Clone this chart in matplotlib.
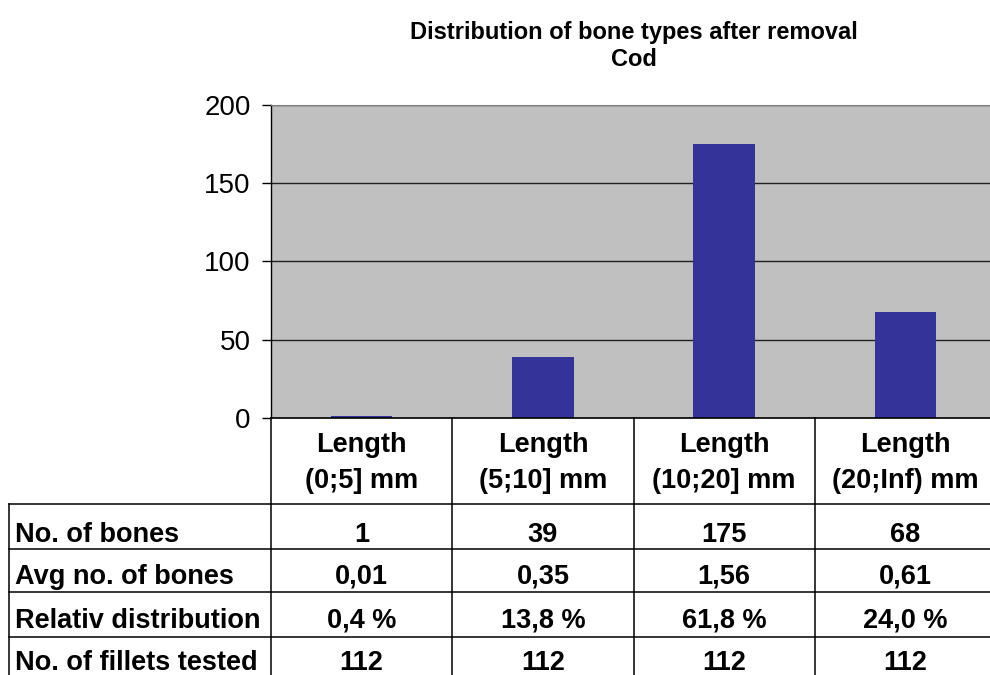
import matplotlib
matplotlib.use("Agg")
import matplotlib.pyplot as plt
from matplotlib.transforms import blended_transform_factory

plt.rcParams["font.family"] = ["Liberation Sans", "DejaVu Sans"]

# ---------- data ----------
categories = ["Length\n(0;5] mm", "Length\n(5;10] mm", "Length\n(10;20] mm", "Length\n(20;Inf) mm"]
n_bones = [1, 39, 175, 68]
avg_bones = [0.01, 0.35, 1.56, 0.61]
rel_dist = [0.4, 13.8, 61.8, 24.0]
n_fillets = [112, 112, 112, 112]
row_labels = ["No. of bones", "Avg no. of bones", "Relativ distribution", "No. of fillets tested"]
y_ticks = [0, 50, 100, 150, 200]


def _comma(v, nd):
    return f"{v:.{nd}f}".replace(".", ",")


rows = [
    [str(v) for v in n_bones],
    [_comma(v, 2) for v in avg_bones],
    [_comma(v, 1) + " %" for v in rel_dist],
    [str(v) for v in n_fillets],
]

W, H = 990, 675
FS = 19.5  # table text size
fig = plt.figure(figsize=(W / 100, H / 100), dpi=100)

# ---------- bar chart ----------
ax = fig.add_axes([271 / W, (H - 418) / H, 725 / W, 313 / H])
ax.set_facecolor("#C0C0C0")
ax.bar(range(len(n_bones)), n_bones, width=0.34, color="#333399", zorder=3)
ax.set_xlim(-0.5, len(n_bones) - 0.5)
ax.set_ylim(0, 200)
ax.set_yticks(y_ticks)
ax.set_xticks([])
ax.yaxis.grid(True, color="#202020", lw=1.0, zorder=1)
ax.tick_params(axis="y", labelsize=20, direction="out", length=6.5, width=1, pad=8)
ax.spines["top"].set_color("#808080")
ax.spines["right"].set_visible(False)
ax.spines["left"].set_linewidth(1.0)
ax.spines["bottom"].set_linewidth(1.2)
ax.spines["bottom"].set_zorder(4)

fig.text(634 / W, 1 - 39 / H, "Distribution of bone types after removal",
         ha="center", va="baseline", fontsize=17, fontweight="bold")
fig.text(634 / W, 1 - 66 / H, "Cod",
         ha="center", va="baseline", fontsize=17, fontweight="bold")

# ---------- data table below the axis ----------
ov = fig.add_axes([0, 0, 1, 1], zorder=5)
ov.set_xlim(0, W)
ov.set_ylim(H, 0)
ov.axis("off")
tr = blended_transform_factory(ax.transData, ov.transData)

lw = 1.1
row_edges = [504, 549, 592, 637]
for y in row_edges:
    ov.plot([9, 1000], [y, y], color="black", lw=lw, clip_on=False)
ov.plot([9, 9], [504, H], color="black", lw=lw)
ov.plot([271, 271], [418, H], color="black", lw=lw)
for i in range(1, len(categories)):
    ov.plot([i - 0.5, i - 0.5], [418, H], color="black", lw=lw, transform=tr)

for i, cat in enumerate(categories):
    top, bot = cat.split("\n")
    ov.text(i, 452, top, ha="center", va="baseline", fontsize=FS, fontweight="bold", transform=tr)
    ov.text(i, 488, bot, ha="center", va="baseline", fontsize=FS, fontweight="bold", transform=tr)

baselines = [542, 584, 628, 670]
for label, vals, yb in zip(row_labels, rows, baselines):
    ov.text(15, yb, label, ha="left", va="baseline", fontsize=FS, fontweight="bold")
    for i, s in enumerate(vals):
        ov.text(i, yb, s, ha="center", va="baseline", fontsize=FS, fontweight="bold", transform=tr)

fig.savefig("out.png", dpi=100)
